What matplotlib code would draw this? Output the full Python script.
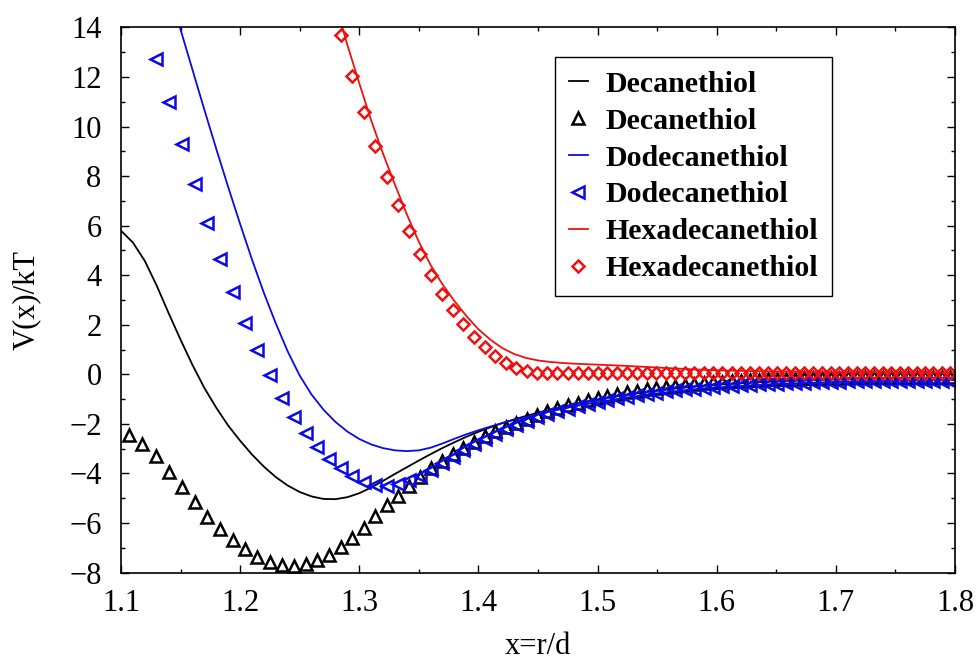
import matplotlib
matplotlib.use("Agg")
import matplotlib.pyplot as plt
from matplotlib.ticker import MultipleLocator

plt.rcParams['font.family'] = ['Liberation Serif', 'DejaVu Serif']

# ---- simulation points (common r/d grid) ----
x_grid = [1.1068, 1.1180, 1.1292, 1.1402, 1.1511, 1.1619, 1.1726, 1.1832, 1.1937, 1.2042,
          1.2145, 1.2247, 1.2349, 1.2450, 1.2550, 1.2649, 1.2748, 1.2845, 1.2942, 1.3038,
          1.3134, 1.3229, 1.3323, 1.3416, 1.3509, 1.3602, 1.3693, 1.3784, 1.3874, 1.3964,
          1.4054, 1.4142, 1.4230, 1.4318, 1.4405, 1.4491, 1.4577, 1.4663, 1.4748, 1.4832,
          1.4916, 1.5000, 1.5083, 1.5166, 1.5248, 1.5330, 1.5411, 1.5492, 1.5572, 1.5652,
          1.5732, 1.5811, 1.5890, 1.5969, 1.6047, 1.6125, 1.6202, 1.6279, 1.6355, 1.6432,
          1.6508, 1.6583, 1.6658, 1.6733, 1.6808, 1.6882, 1.6956, 1.7029, 1.7103, 1.7176,
          1.7248, 1.7321, 1.7393, 1.7464, 1.7536, 1.7607, 1.7678, 1.7748, 1.7819, 1.7889,
          1.7958]

dec_pts_y = [-2.45, -2.81, -3.30, -3.93, -4.56, -5.14, -5.75, -6.26, -6.69, -7.07,
             -7.36, -7.56, -7.70, -7.73, -7.67, -7.50, -7.30, -6.98, -6.62, -6.19,
             -5.72, -5.28, -4.90, -4.50, -4.13, -3.80, -3.50, -3.22, -2.96, -2.72,
             -2.50, -2.30, -2.12, -1.95, -1.79, -1.64, -1.50, -1.37, -1.25, -1.14,
             -1.04, -0.95, -0.87, -0.80, -0.73, -0.67, -0.61, -0.56, -0.51, -0.47,
             -0.43, -0.39, -0.36, -0.33, -0.30, -0.28, -0.26, -0.24, -0.22, -0.20,
             -0.19, -0.18, -0.17, -0.16, -0.15, -0.14, -0.13, -0.13, -0.12, -0.12,
             -0.11, -0.11, -0.11, -0.10, -0.10, -0.10, -0.10, -0.09, -0.09, -0.09,
             -0.09]

dod_pts_y = [12.72, 11.00, 9.30, 7.68, 6.11, 4.65, 3.32, 2.06,
             0.98, -0.03, -0.94, -1.71, -2.38, -2.92, -3.43, -3.80, -4.11, -4.34,
             -4.47, -4.51, -4.43, -4.27, -4.11, -3.86, -3.59, -3.32, -3.06, -2.82,
             -2.60, -2.40, -2.21, -2.04, -1.88, -1.74, -1.61, -1.49, -1.38, -1.28,
             -1.19, -1.11, -1.03, -0.96, -0.90, -0.84, -0.79, -0.74, -0.69, -0.65,
             -0.61, -0.58, -0.55, -0.52, -0.49, -0.47, -0.45, -0.43, -0.41, -0.39,
             -0.38, -0.36, -0.35, -0.34, -0.33, -0.32, -0.31, -0.30, -0.29, -0.29,
             -0.28, -0.28, -0.27, -0.27, -0.26, -0.26, -0.26, -0.25, -0.25, -0.25,
             -0.25]

hex_pts_y = [13.70, 12.05, 10.59, 9.23, 7.98, 6.85, 5.80, 4.86, 4.01, 3.24,
             2.60, 2.03, 1.52, 1.11, 0.74, 0.45, 0.24, 0.12, 0.07, 0.06,
             0.06, 0.05, 0.05, 0.05, 0.05, 0.05, 0.05, 0.05, 0.05, 0.05,
             0.05, 0.05, 0.05, 0.05, 0.05, 0.05, 0.05, 0.05, 0.05, 0.05,
             0.05, 0.05, 0.05, 0.05, 0.05, 0.05, 0.05, 0.05, 0.05, 0.05,
             0.05, 0.05, 0.05, 0.05, 0.05, 0.05, 0.05, 0.05, 0.05, 0.05,
             0.05, 0.05, 0.05, 0.05]

dec_pts_x = x_grid
dod_pts_x = x_grid[2:]
hex_pts_x = x_grid[17:]

# ---- model curves ----
dec_line_x = [1.10, 1.11, 1.12, 1.13, 1.14, 1.15, 1.16, 1.17, 1.18, 1.19,
              1.20, 1.21, 1.22, 1.23, 1.24, 1.25, 1.26, 1.27, 1.28, 1.29,
              1.30, 1.31, 1.32, 1.33, 1.34, 1.35, 1.36, 1.37, 1.38, 1.39,
              1.40, 1.41, 1.42, 1.43, 1.44, 1.45, 1.46, 1.47, 1.48, 1.49,
              1.50, 1.52, 1.54, 1.56, 1.58, 1.60, 1.65, 1.70, 1.75, 1.80]
dec_line_y = [5.80, 5.32, 4.58, 3.58, 2.47, 1.40, 0.38, -0.55, -1.35, -2.07,
              -2.68, -3.24, -3.73, -4.15, -4.49, -4.75, -4.93, -5.03, -5.04, -4.96,
              -4.80, -4.57, -4.30, -4.02, -3.75, -3.48, -3.22, -2.97, -2.74, -2.52,
              -2.32, -2.14, -1.97, -1.82, -1.68, -1.55, -1.43, -1.32, -1.21, -1.11,
              -1.02, -0.86, -0.72, -0.60, -0.50, -0.42, -0.28, -0.20, -0.16, -0.14]

dod_line_x = [1.14, 1.15, 1.16, 1.17, 1.18, 1.19, 1.20, 1.21, 1.22, 1.23,
              1.24, 1.25, 1.26, 1.27, 1.28, 1.29, 1.30, 1.31, 1.32, 1.33,
              1.34, 1.35, 1.36, 1.37, 1.38, 1.39, 1.40, 1.41, 1.42, 1.43,
              1.44, 1.45, 1.46, 1.47, 1.48, 1.49, 1.50, 1.52, 1.54, 1.56,
              1.58, 1.60, 1.65, 1.70, 1.75, 1.80]
dod_line_y = [15.60, 13.92, 12.30, 10.68, 9.10, 7.56, 6.07, 4.63, 3.28, 2.05,
              0.92, -0.05, -0.82, -1.43, -1.92, -2.31, -2.61, -2.83, -2.98, -3.07,
              -3.10, -3.07, -2.96, -2.79, -2.60, -2.42, -2.26, -2.11, -1.97, -1.84,
              -1.72, -1.61, -1.50, -1.40, -1.30, -1.21, -1.13, -0.97, -0.83, -0.71,
              -0.61, -0.53, -0.39, -0.31, -0.26, -0.23]

hex_line_x = [1.28, 1.29, 1.30, 1.31, 1.32, 1.33, 1.34, 1.35, 1.36, 1.37,
              1.38, 1.39, 1.40, 1.41, 1.42, 1.43, 1.44, 1.45, 1.46, 1.47,
              1.48, 1.49, 1.50, 1.52, 1.54, 1.56, 1.58, 1.60, 1.65, 1.70,
              1.75, 1.80]
hex_line_y = [15.00, 13.30, 11.75, 10.25, 8.90, 7.65, 6.45, 5.35, 4.40, 3.62,
              2.95, 2.35, 1.82, 1.40, 1.06, 0.82, 0.66, 0.56, 0.50, 0.46,
              0.43, 0.41, 0.39, 0.35, 0.30, 0.25, 0.20, 0.16, 0.11, 0.09,
              0.08, 0.07]

labels = ['Decanethiol', 'Dodecanethiol', 'Hexadecanethiol']
x_ticks = [1.1, 1.2, 1.3, 1.4, 1.5, 1.6, 1.7, 1.8]
y_ticks = [-8, -6, -4, -2, 0, 2, 4, 6, 8, 10, 12, 14]

fig = plt.figure(figsize=(9.77, 6.64), dpi=100)
ax = fig.add_axes([0.1238, 0.1378, 0.8537, 0.8208])

blue = '#0a0ae6'
red = '#f01010'
lw = 1.3
mew = 1.8

ax.plot(dec_line_x, dec_line_y, '-', color='black', lw=lw, label=labels[0])
ax.plot(dec_pts_x, dec_pts_y, '^', ms=8, mfc='none', mec='black', mew=mew, ls='none', label=labels[0])
ax.plot(dod_line_x, dod_line_y, '-', color=blue, lw=lw, label=labels[1])
ax.plot(dod_pts_x, dod_pts_y, '<', ms=8, mfc='none', mec=blue, mew=mew, ls='none', label=labels[1])
ax.plot(hex_line_x, hex_line_y, '-', color=red, lw=lw, label=labels[2])
ax.plot(hex_pts_x, hex_pts_y, 'D', ms=6.5, mfc='none', mec=red, mew=mew, ls='none', label=labels[2])

ax.set_xlim(1.1, 1.8)
ax.set_ylim(-8, 14)
ax.set_xticks(x_ticks)
ax.set_xticklabels([f'{v:.1f}' for v in x_ticks])
ax.set_yticks(y_ticks)
ax.set_yticklabels([str(v).replace('-', '\u2212') for v in y_ticks])
ax.xaxis.set_minor_locator(MultipleLocator(0.05))
ax.yaxis.set_minor_locator(MultipleLocator(1))
ax.tick_params(which='both', direction='in', top=True, right=True, labelsize=22, width=1.0)
ax.tick_params(which='major', length=6)
ax.tick_params(which='minor', length=3)
ax.tick_params(axis='x', pad=12)
ax.tick_params(axis='y', pad=14)
for s in ax.spines.values():
    s.set_linewidth(1.2)

ax.set_xlabel('x=r/d', fontsize=22, labelpad=10)
ax.set_ylabel('V(x)/kT', fontsize=22, labelpad=20)

leg = ax.legend(loc='upper left', bbox_to_anchor=(0.5205, 0.945),
                prop={'weight': 'bold', 'size': 21.5}, frameon=True, fancybox=False,
                edgecolor='black', framealpha=1, handlelength=0.65, handletextpad=0.6,
                labelspacing=0.33, borderpad=0.45, borderaxespad=0)
leg.get_frame().set_linewidth(1.0)

fig.savefig('out.png', dpi=100)
